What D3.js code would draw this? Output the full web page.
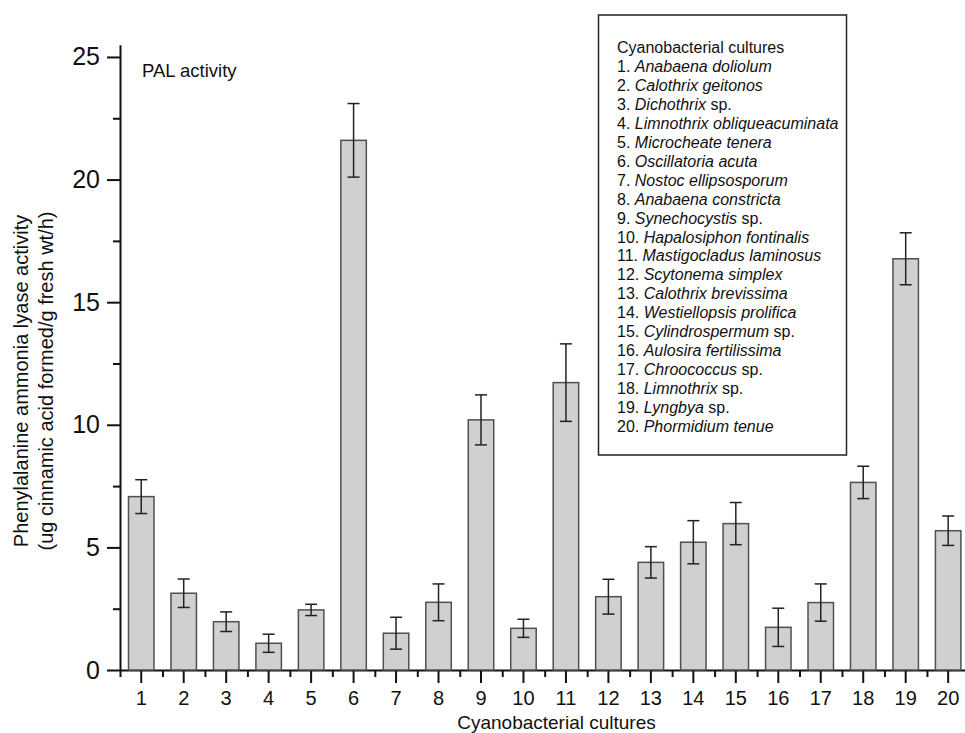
<!DOCTYPE html>
<html>
<head>
<meta charset="utf-8">
<script src="https://cdn.jsdelivr.net/npm/d3@7"></script>
<style>
  body { margin: 0; background: #fff; }
  text { font-family: "Liberation Sans", Arial, sans-serif; fill: #111; }
</style>
</head>
<body>
<svg id="chart" width="965" height="733"></svg>
<script>
// culture numbers on the x axis
const cultures = d3.range(1, 21)
// mean PAL activity per culture
const activity = [7.07, 3.13, 1.97, 1.09, 2.45, 21.6, 1.5, 2.76, 10.2, 1.7,
                  11.72, 2.99, 4.39, 5.21, 5.97, 1.74, 2.75, 7.65, 16.77, 5.68]
// error (+/-)
const errors = [0.69, 0.58, 0.4, 0.37, 0.23, 1.5, 0.65, 0.75, 1.02, 0.37,
                1.58, 0.71, 0.64, 0.88, 0.86, 0.78, 0.76, 0.66, 1.06, 0.6]
const yTicks = [0, 5, 10, 15, 20, 25]
const yMinor = [2.5, 7.5, 12.5, 17.5, 22.5]
// legend: [italic name, suffix]
const legendTitle = "Cyanobacterial cultures"
const species = [
  ["Anabaena doliolum", ""], ["Calothrix geitonos", ""], ["Dichothrix", " sp."],
  ["Limnothrix obliqueacuminata", ""], ["Microcheate tenera", ""], ["Oscillatoria acuta", ""],
  ["Nostoc ellipsosporum", ""], ["Anabaena constricta", ""], ["Synechocystis", " sp."],
  ["Hapalosiphon fontinalis", ""], ["Mastigocladus laminosus", ""], ["Scytonema simplex", ""],
  ["Calothrix brevissima", ""], ["Westiellopsis prolifica", ""], ["Cylindrospermum", " sp."],
  ["Aulosira fertilissima", ""], ["Chroococcus", " sp."], ["Limnothrix", " sp."],
  ["Lyngbya", " sp."], ["Phormidium tenue", ""]
]

const data = cultures.map((c, i) => ({c: c, v: activity[i], e: errors[i]}))

const svg = d3.select('#chart')

const x0 = 120, x1 = 969.4
const x = d3.scaleBand()
  .domain(cultures)
  .range([x0, x1])
  .paddingInner(0.4)
  .paddingOuter(0.2)
// linear twin of the band scale for the in-between ticks
const xLin = d3.scaleLinear().domain([0.5, 20.5]).range([x0, x1])

const y = d3.scaleLinear().domain([0, 25.5]).range([670, 44.7])

// x axis, minor ticks between bars
svg.append('g')
  .attr('transform', 'translate(0,' + y(0) + ')')
  .call(d3.axisBottom(xLin).tickValues(d3.range(0.5, 21, 1)).tickSize(7).tickFormat('').tickSizeOuter(0))
  .call(g => g.selectAll('line, path').attr('stroke', '#111').attr('stroke-width', 2))

// x axis, major ticks at bar centres
svg.append('g')
  .attr('transform', 'translate(0,' + y(0) + ')')
  .call(d3.axisBottom(x).tickSize(13).tickPadding(8).tickSizeOuter(0))
  .call(g => g.select('.domain').remove())
  .call(g => g.selectAll('line').attr('stroke', '#111').attr('stroke-width', 2))
  .call(g => g.selectAll('text').attr('font-size', 20).attr('font-family', '"Liberation Sans", Arial, sans-serif').attr('fill', '#111'))

// y axis
svg.append('g')
  .attr('transform', 'translate(' + x0 + ',0)')
  .call(d3.axisLeft(y).tickValues(yMinor).tickSize(7).tickFormat('').tickSizeOuter(0))
  .call(g => g.selectAll('line, path').attr('stroke', '#111').attr('stroke-width', 2))

svg.append('g')
  .attr('transform', 'translate(' + x0 + ',0)')
  .call(d3.axisLeft(y).tickValues(yTicks).tickSize(13).tickPadding(7).tickSizeOuter(0))
  .call(g => g.select('.domain').remove())
  .call(g => g.selectAll('line').attr('stroke', '#111').attr('stroke-width', 2))
  .call(g => g.selectAll('text').attr('font-size', 25).attr('font-family', '"Liberation Sans", Arial, sans-serif').attr('fill', '#111'))

// bars
svg.append('g')
  .selectAll('rect')
  .data(data)
  .join('rect')
  .attr('x', d => x(d.c))
  .attr('y', d => y(d.v))
  .attr('width', x.bandwidth())
  .attr('height', d => y(0) - y(d.v))
  .attr('fill', '#d0d0d0')
  .attr('stroke', '#505050')
  .attr('stroke-width', 1.5)

// error bars
const cap = 6
const eb = svg.append('g')
  .attr('stroke', '#222')
  .attr('stroke-width', 1.5)
  .selectAll('g')
  .data(data)
  .join('g')
  .attr('transform', d => 'translate(' + (x(d.c) + x.bandwidth() / 2) + ',0)')
eb.append('line').attr('y1', d => y(d.v + d.e)).attr('y2', d => y(d.v - d.e))
eb.append('line').attr('x1', -cap).attr('x2', cap).attr('y1', d => y(d.v + d.e)).attr('y2', d => y(d.v + d.e))
eb.append('line').attr('x1', -cap).attr('x2', cap).attr('y1', d => y(d.v - d.e)).attr('y2', d => y(d.v - d.e))

// panel label
svg.append('text')
  .attr('x', 142)
  .attr('y', 77)
  .attr('font-size', 18.5)
  .text('PAL activity')

// axis titles
svg.append('text')
  .attr('x', (x0 + 965) / 2 + 14)
  .attr('y', 729)
  .attr('text-anchor', 'middle')
  .attr('font-size', 19)
  .text('Cyanobacterial cultures')

const yTitle = svg.append('text')
  .attr('transform', 'translate(28,381) rotate(-90)')
  .attr('text-anchor', 'middle')
  .attr('font-size', 20)
yTitle.append('tspan').attr('x', 0).attr('dy', 0).text('Phenylalanine ammonia lyase activity')
yTitle.append('tspan').attr('x', 0).attr('dy', 25).text('(ug cinnamic acid formed/g fresh wt/h)')

// legend box
svg.append('rect')
  .attr('x', 598.5)
  .attr('y', 15)
  .attr('width', 248)
  .attr('height', 440)
  .attr('fill', 'none')
  .attr('stroke', '#222')
  .attr('stroke-width', 1.5)

const legend = svg.append('g').attr('font-size', 16)
const rowH = 18.95
legend.append('text').attr('x', 617).attr('y', 53).text(legendTitle)
species.forEach((s, i) => {
  const t = legend.append('text').attr('x', 617).attr('y', 53 + (i + 1) * rowH)
  t.append('tspan').text((i + 1) + '. ')
  t.append('tspan').attr('font-style', 'italic').text(s[0])
  if (s[1]) t.append('tspan').text(s[1])
})
</script>
</body>
</html>
